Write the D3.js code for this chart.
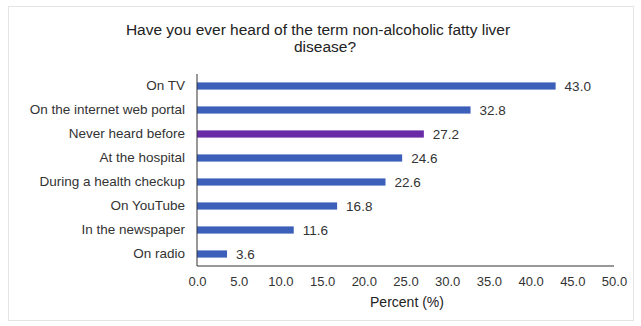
<!DOCTYPE html>
<html>
<head>
<meta charset="utf-8">
<script src="https://d3js.org/d3.v7.min.js"></script>
<style>
body { margin: 0; background: #fff; font-family: 'Liberation Sans', Arial, sans-serif; }
svg { display: block; }
</style>
</head>
<body>
<div id="chart"></div>
<script>
// data
var categories = ["On TV", "On the internet web portal", "Never heard before", "At the hospital",
                  "During a health checkup", "On YouTube", "In the newspaper", "On radio"];
var values = [43.0, 32.8, 27.2, 24.6, 22.6, 16.8, 11.6, 3.6];
var tickValues = [0, 5, 10, 15, 20, 25, 30, 35, 40, 45, 50];
var highlight = "Never heard before";

var W = 641, H = 326;
var svg = d3.select("#chart").append("svg").attr("width", W).attr("height", H);

// faint frame round the chart
svg.append("rect").attr("x", 8.5).attr("y", 6.5).attr("width", W - 16).attr("height", H - 12)
  .attr("fill", "none").attr("stroke", "#e4e4e4");

var x = d3.scaleLinear().domain([0, 50]).range([197, 614]);
var y = d3.scaleBand().domain(categories).range([74, 266]).paddingInner(0.7).paddingOuter(0.35);

// title
var title = svg.append("text").attr("text-anchor", "middle").attr("font-size", 15.5).attr("fill", "#222");
title.append("tspan").attr("x", 318).attr("y", 35).text("Have you ever heard of the term non-alcoholic fatty liver");
title.append("tspan").attr("x", 325).attr("y", 52).text("disease?");

// bars
svg.selectAll(".bar").data(categories).enter().append("rect")
  .attr("class", "bar")
  .attr("x", x(0))
  .attr("y", function(d) { return y(d); })
  .attr("width", function(d, i) { return x(values[i]) - x(0); })
  .attr("height", y.bandwidth())
  .attr("fill", function(d) { return d == highlight ? "#6a2ca6" : "#3c5fba"; });

// value labels
svg.selectAll(".val").data(categories).enter().append("text")
  .attr("class", "val")
  .attr("x", function(d, i) { return x(values[i]) + 9; })
  .attr("y", function(d) { return y(d) + y.bandwidth() / 2; })
  .attr("dy", "0.35em")
  .attr("font-size", 13.5)
  .attr("fill", "#333")
  .text(function(d, i) { return values[i].toFixed(1); });

// y axis
var yAxis = svg.append("g").attr("transform", "translate(" + x(0) + ",0)")
  .call(d3.axisLeft(y).tickSize(0).tickPadding(12));
yAxis.select(".domain").attr("stroke", "#333").attr("d", "M0,74V266");
yAxis.selectAll("text").attr("font-size", 13.5).attr("fill", "#333")
  .style("font-family", "'Liberation Sans', Arial, sans-serif");

// x axis
var xAxis = svg.append("g").attr("transform", "translate(0,266)")
  .call(d3.axisBottom(x).tickValues(tickValues).tickSize(0).tickPadding(11)
    .tickFormat(function(d) { return d3.format(".1f")(d); }));
xAxis.select(".domain").attr("stroke", "#333").attr("d", "M197,0H614");
xAxis.selectAll("text").attr("font-size", 13).attr("fill", "#333")
  .style("font-family", "'Liberation Sans', Arial, sans-serif");

svg.append("text").attr("x", 407).attr("y", 307)
  .attr("text-anchor", "middle").attr("font-size", 14).attr("fill", "#222")
  .text("Percent (%)");
</script>
</body>
</html>
